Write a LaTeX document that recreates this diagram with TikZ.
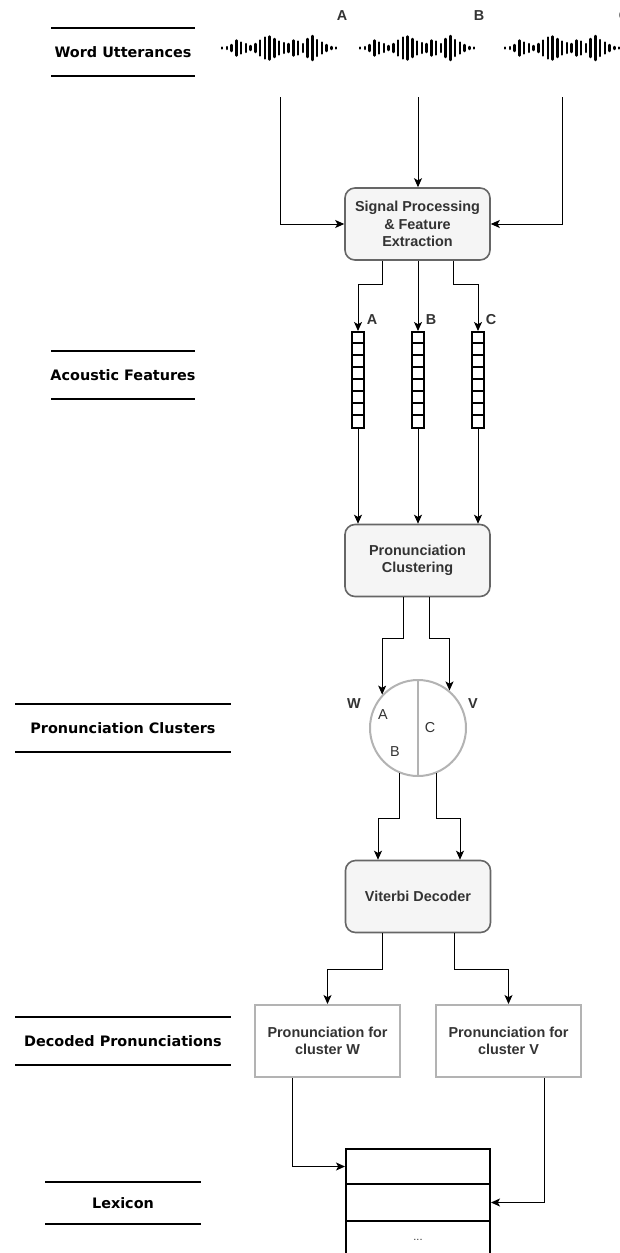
\documentclass[tikz,border=0pt]{standalone}
\usepackage{fontspec}
\setmainfont{Liberation Sans}
\newfontfamily\sidefont{DejaVu Sans}
\usetikzlibrary{arrows.meta}
\definecolor{boxfill}{HTML}{F5F5F5}
\definecolor{boxline}{HTML}{666666}
\definecolor{txt}{HTML}{333333}
\definecolor{pale}{HTML}{B3B3B3}
\tikzset{
  conn/.style={draw=black, line width=1pt, -{Stealth[length=9pt,width=8pt,inset=2.2pt]}},
  boxtext/.style={text=txt, font=\bfseries\fontsize{14.4}{17.3}\selectfont, align=center},
  procbox/.style={boxtext, draw=boxline, fill=boxfill, line width=1.6pt, rounded corners=10pt,
    minimum width=145pt, minimum height=72pt, inner sep=0pt},
  pronbox/.style={boxtext, draw=pale, fill=white, line width=2pt,
    minimum width=145pt, minimum height=72pt, inner sep=0pt},
  featvec/.style={draw=black, line width=2pt, minimum width=12pt, minimum height=96pt, inner sep=0pt},
  lexrow/.style={draw=black, line width=2pt, minimum width=144pt, inner sep=0pt},
  tag/.style={text=txt, font=\bfseries\fontsize{14.4}{17}\selectfont, inner sep=0pt},
  inner/.style={text=txt, font=\fontsize{14.4}{17}\selectfont, inner sep=0pt},
  sidelabel/.style={text=black, font=\sidefont\bfseries\fontsize{14.4}{17}\selectfont, inner sep=0pt},
  rule/.style={draw=black, line width=2pt},
  bar/.style={draw=black, line width=2.5pt, line cap=round},
}
\begin{document}
\begin{tikzpicture}[x=1pt, y=-1pt]
\useasboundingbox (0,0) rectangle (620,1253);
\clip (0,0) rectangle (620,1253);

% ---- row captions on the left ----
\node[sidelabel] (lblWU) at (123,52) {Word Utterances};
\draw[rule] (51,28) -- (195,28);
\draw[rule] (51,76) -- (195,76);

\node[sidelabel] (lblAF) at (123,375) {Acoustic Features};
\draw[rule] (51,351) -- (195,351);
\draw[rule] (51,399) -- (195,399);

\node[sidelabel] (lblPC) at (123,728) {Pronunciation Clusters};
\draw[rule] (15,704) -- (231,704);
\draw[rule] (15,752) -- (231,752);

\node[sidelabel] (lblDP) at (123,1041) {Decoded Pronunciations};
\draw[rule] (15,1017) -- (231,1017);
\draw[rule] (15,1065) -- (231,1065);

\node[sidelabel] (lblLX) at (123,1203) {Lexicon};
\draw[rule] (45,1182) -- (201,1182);
\draw[rule] (45,1224) -- (201,1224);

% ---- waveforms of the three utterances ----
\foreach \ox/\nm in {222/A, 360/B, 505/C} {
  \begin{scope}[shift={(\ox,48)}]
    \foreach \h [count=\i from 0] in {1,2,6,15,11,8,4,8,15,21,23,18,13,10,8,15,13,8,18,24,16,11,6,2,1}
      \draw[bar] (\i*4.75,-\h/2) -- (\i*4.75,\h/2);
  \end{scope}
}
\node[tag] (wA) at (342,16) {A};
\node[tag] (wB) at (479,16) {B};
\node[tag] (wC) at (624,16) {C};

\coordinate (srcA) at (280,97);
\coordinate (srcB) at (418,97);
\coordinate (srcC) at (562,97);

% ---- processing chain ----
\node[procbox] (sp) at (417.5,224) {Signal Processing\\\& Feature\\Extraction};

\node[featvec] (vecA) at (358,380) {};
\node[featvec] (vecB) at (418,380) {};
\node[featvec] (vecC) at (478,380) {};
\foreach \v in {vecA,vecB,vecC}
  \foreach \k in {1,...,7}
    \draw[line width=2pt] ([yshift=-12*\k pt]\v.north west) -- ([yshift=-12*\k pt]\v.north east);
\node[tag] (fA) at (372,320) {A};
\node[tag] (fB) at (431,320) {B};
\node[tag] (fC) at (491,320) {C};

\node[procbox] (pc) at (417.5,560.5) {Pronunciation\\Clustering};

\node[circle, draw=pale, fill=white, line width=2pt, minimum size=96pt, inner sep=0pt] (cl) at (418,728) {};
\draw[draw=pale, line width=2pt] (cl.north) -- (cl.south);
\node[tag] (cW) at (354,704) {W};
\node[tag] (cV) at (473,704) {V};
\node[inner] (cA) at (383,715) {A};
\node[inner] (cB) at (395,752) {B};
\node[inner] (cC) at (430,728) {C};

\node[procbox] (vd) at (418,896.5) {Viterbi Decoder};

\node[pronbox] (pw) at (327.5,1041) {Pronunciation for\\cluster W};
\node[pronbox] (pv) at (508.5,1041) {Pronunciation for\\cluster V};

\node[lexrow, minimum height=35pt] (lex1) at (418,1166.5) {};
\node[lexrow, minimum height=37pt] (lex2) at (418,1202.5) {};
\node[lexrow, minimum height=37pt, text=txt, font=\fontsize{11}{13}\selectfont] (lex3) at (418,1239.5) {...};

% ---- connectors ----
\draw[conn] (srcA) |- (sp.west);
\draw[conn] (srcB) -- (srcB |- sp.north);
\draw[conn] (srcC) |- (sp.east);

\draw[conn] ([xshift=-35.5pt]sp.south) -- ++(0,24) -| (vecA.north);
\draw[conn] (vecB.north |- sp.south) -- (vecB.north);
\draw[conn] ([xshift=35.5pt]sp.south) -- ++(0,24) -| (vecC.north);

\draw[conn] (vecA.south) -- (vecA.south |- pc.north);
\draw[conn] (vecB.south) -- (vecB.south |- pc.north);
\draw[conn] (vecC.south) -- (vecC.south |- pc.north);

\draw[conn] ([xshift=-14.5pt]pc.south) -- ++(0,41) -| (cl.137);
\draw[conn] ([xshift=11.5pt]pc.south) -- ++(0,41) -| (cl.50);

\draw[conn] (cl.248) -- (cl.248 |- 0,818) -| ([xshift=-40pt]vd.north);
\draw[conn] (cl.292) -- (cl.292 |- 0,818) -| ([xshift=42pt]vd.north);

\draw[conn] ([xshift=-36pt]vd.south) -- ++(0,36) -| (pw.north);
\draw[conn] ([xshift=36pt]vd.south) -- ++(0,36) -| (pv.north);

\draw[conn] ([xshift=-35.5pt]pw.south) |- (lex1.west);
\draw[conn] ([xshift=35.5pt]pv.south) |- (lex2.east);
\end{tikzpicture}
\end{document}
